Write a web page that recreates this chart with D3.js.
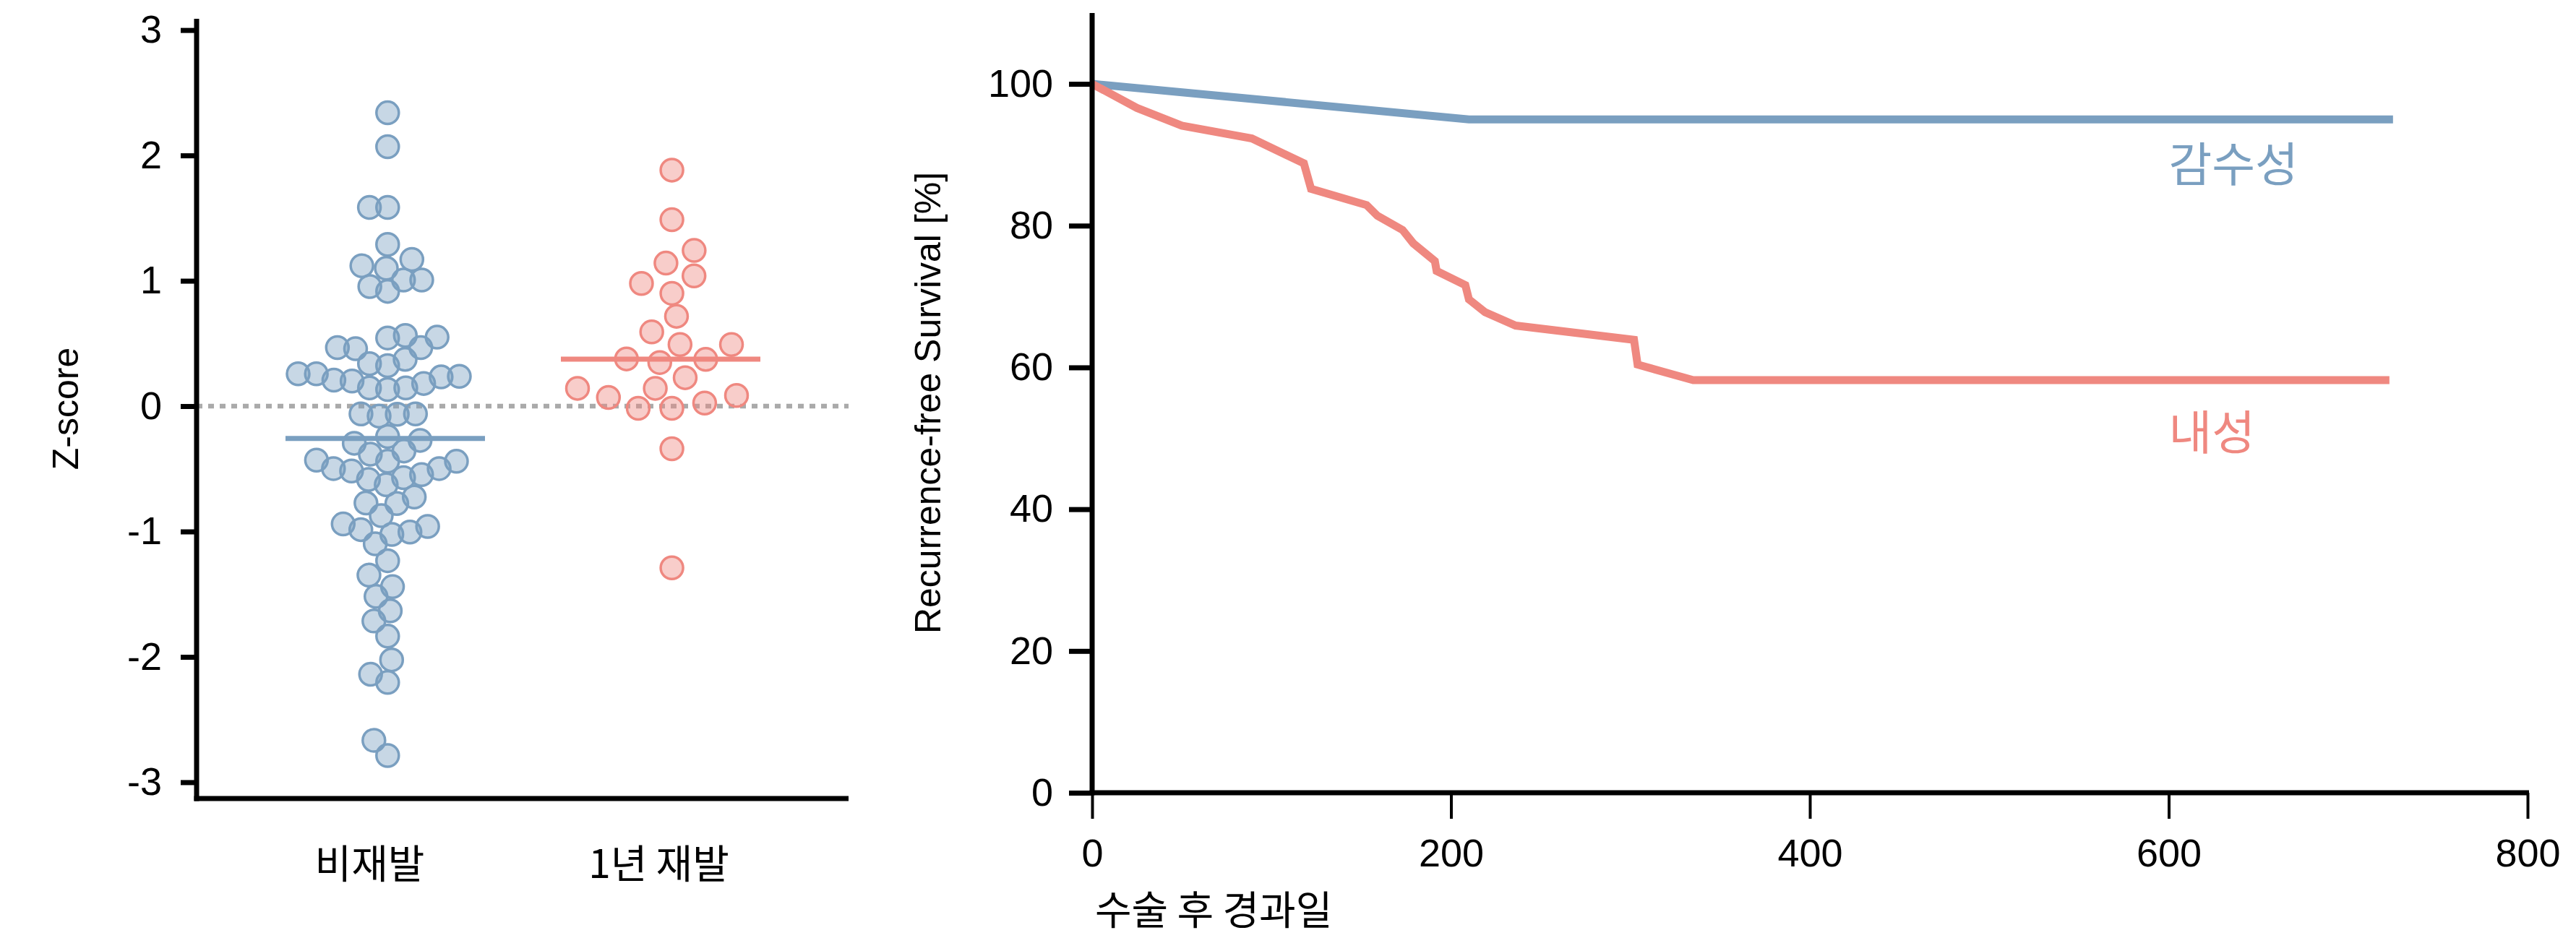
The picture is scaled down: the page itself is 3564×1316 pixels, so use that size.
<!DOCTYPE html>
<html>
<head>
<meta charset="utf-8">
<script src="https://cdn.jsdelivr.net/npm/d3@7"></script>
<style>
  body { margin: 0; background: #fff; }
  svg { display: block; }
  text { font-family: "Liberation Sans", Arial, "Noto Sans CJK KR", sans-serif; fill: #000; }
</style>
</head>
<body>
<svg id="chart"></svg>
<script>
// ---- data ----
const groups = ["비재발", "1년 재발"]

// Z-scores
const noRelapse = [
  2.34, 2.07, 1.585, 1.585, 1.29, 1.12, 1.17, 1.10, 1.006, 1.006, 0.954, 0.916,
  0.467, 0.458, 0.544, 0.55, 0.564, 0.467, 0.339, 0.323, 0.373,
  0.258, 0.258, 0.181, 0.146, 0.133, 0.208, 0.146, 0.2, 0.238, 0.233,
  -0.065, -0.079, -0.062, -0.062, -0.242, -0.296, -0.273, -0.358,
  -0.44, -0.44, -0.431, -0.383, -0.498, -0.517, -0.498,
  -0.546, -0.571, -0.627, -0.585, -0.773, -0.725, -0.777, -0.873,
  -1.004, -0.94, -0.96, -1.023, -0.985, -1.098, -1.233, -1.348, -1.44, -1.518,
  -1.633, -1.714, -1.835, -2.024, -2.139, -2.204, -2.666, -2.787
]
const relapse1y = [
  1.883, 1.487, 1.242, 1.141, 1.039, 0.979, 0.9, 0.717, 0.592, 0.492, 0.492,
  0.377, 0.373, 0.348, 0.227, 0.142, 0.142, 0.085, 0.069, -0.017, 0.025, -0.017,
  -0.34, -1.29
]

// survival curves (days after surgery, % recurrence-free)
const curveNames = ["감수성", "내성"]
const sensDays = [0, 210, 725]
const sensSurv = [100, 95.0, 95.0]
const resDays = [0, 25, 50, 89, 118, 122, 153, 159, 173, 179, 191, 192, 208, 210, 219, 236, 302, 304, 335, 723]
const resSurv = [100, 96.6, 94.1, 92.3, 88.8, 85.2, 82.9, 81.4, 79.4, 77.5, 75.0, 73.6, 71.6, 69.6, 67.8, 65.9, 63.9, 60.4, 58.2, 58.2]

const zTicks = [-3, -2, -1, 0, 1, 2, 3]
const survTicks = [0, 20, 40, 60, 80, 100]
const dayTicks = [0, 200, 400, 600, 800]

// ---- setup ----
const W = 3564, H = 1316
const blue = "#7a9fc0", red = "#ef8880"
const colors = [blue, red]
const plainNum = d => String(d)   // hyphen minus like the original, not U+2212

const svg = d3.select("#chart").attr("width", W).attr("height", H)

// ---- left panel: swarm ----
let zY = d3.scaleLinear().domain([-3.13, 3.09]).range([1105, 26])
let catX = d3.scalePoint().domain(groups).range([511, 911])
const leftX0 = 272, leftX1 = 1174

let left = svg.append("g")

// zero reference line
left.append("line")
  .attr("x1", leftX0).attr("x2", leftX1)
  .attr("y1", zY(0)).attr("y2", zY(0))
  .attr("stroke", "#aaaaaa")
  .attr("stroke-width", 6.5)
  .attr("stroke-dasharray", "8,8")

/**
 * Seaborn-like beeswarm: points placed from lowest value up, each at the
 * candidate closest to the midline that doesn't collide. The swarm is then
 * centred on cx and stretched to the given width.
 **/
function swarm(values, cx, width) {
  const r = 16
  const pts = values.map(v => ({ v, y: zY(v) })).sort((a, b) => b.y - a.y)
  const placed = []
  pts.forEach(p => {
    const near = placed.filter(q => Math.abs(q.y - p.y) < 2 * r).reverse()
    const cands = [0]
    let leftFirst = true
    near.forEach(q => {
      const dx = Math.sqrt(Math.max(4 * r * r - (p.y - q.y) ** 2, 0)) * 1.05
      cands.push(...(leftFirst ? [q.sx - dx, q.sx + dx] : [q.sx + dx, q.sx - dx]))
      leftFirst = !leftFirst
    })
    cands.sort((a, b) => Math.abs(a) - Math.abs(b))
    p.sx = cands.find(c => near.every(q => (q.sx - c) ** 2 + (q.y - p.y) ** 2 >= 4 * r * r - 1e-6))
    if (p.sx === undefined) p.sx = 0
    placed.push(p)
  })
  const [lo, hi] = d3.extent(placed, p => p.sx)
  const k = width / (hi - lo)
  return placed.map(p => ({ v: p.v, x: cx + (p.sx - (lo + hi) / 2) * k, y: p.y }))
}

const groupValues = [noRelapse, relapse1y]
const swarmShift = [13, -2]
const swarmWidth = [223, 220]

groupValues.forEach((vals, i) => {
  const cx = catX(groups[i])
  const pts = swarm(vals, cx + swarmShift[i], swarmWidth[i])

  left.append("g")
    .selectAll("circle")
    .data(pts)
    .enter()
    .append("circle")
    .attr("cx", d => d.x)
    .attr("cy", d => d.y)
    .attr("r", 15.5)
    .attr("fill", colors[i])
    .attr("fill-opacity", 0.42)
    .attr("stroke", colors[i])
    .attr("stroke-width", 3.5)

  // median line
  const med = d3.median(vals)
  const shift = i === 0 ? 22 : 3
  left.append("line")
    .attr("x1", cx + shift - 138).attr("x2", cx + shift + 138)
    .attr("y1", zY(med)).attr("y2", zY(med))
    .attr("stroke", colors[i])
    .attr("stroke-width", 7)
})

// axes
let zAxis = left.append("g")
  .attr("transform", `translate(${leftX0},0)`)
  .call(d3.axisLeft(zY).tickValues(zTicks).tickSize(22).tickPadding(26).tickFormat(plainNum))
zAxis.select(".domain").remove()
zAxis.selectAll(".tick line").attr("stroke", "#000").attr("stroke-width", 7)
zAxis.selectAll(".tick text").attr("font-size", 54).attr("fill", "#000")
  .style("font-family", '"Liberation Sans", Arial, sans-serif')

left.append("line")
  .attr("x1", leftX0).attr("x2", leftX0)
  .attr("y1", zY.range()[1]).attr("y2", zY.range()[0] + 3.5)
  .attr("stroke", "#000").attr("stroke-width", 7)
left.append("line")
  .attr("x1", leftX0 - 3.5).attr("x2", leftX1)
  .attr("y1", zY.range()[0]).attr("y2", zY.range()[0])
  .attr("stroke", "#000").attr("stroke-width", 7)

let catAxis = left.append("g")
  .attr("transform", `translate(0,${zY.range()[0]})`)
  .call(d3.axisBottom(catX).tickSize(0).tickPadding(71))
catAxis.select(".domain").remove()
catAxis.selectAll(".tick text").attr("font-size", 55).attr("fill", "#000")
  .style("font-family", '"Noto Sans CJK KR", sans-serif')

left.append("text")
  .attr("transform", `translate(91,${(zY.range()[0] + zY.range()[1]) / 2}) rotate(-90)`)
  .attr("text-anchor", "middle")
  .attr("dominant-baseline", "central")
  .attr("font-size", 50)
  .text("Z-score")

// ---- right panel: survival curves ----
let dayX = d3.scaleLinear().domain([0, 800]).range([1511, 3497])
let survY = d3.scaleLinear().domain([0, 110]).range([1097, 18])

let right = svg.append("g")

const curves = [
  sensDays.map((d, i) => [d, sensSurv[i]]),
  resDays.map((d, i) => [d, resSurv[i]])
]
const line = d3.line().x(d => dayX(d[0])).y(d => survY(d[1]))

curves.forEach((c, i) => {
  right.append("path")
    .datum(c)
    .attr("d", line)
    .attr("fill", "none")
    .attr("stroke", colors[i])
    .attr("stroke-width", 11)
    .attr("stroke-linejoin", "miter")
})

// curve labels
const labelPos = [[600, 86.2], [600, 48.4]]
curveNames.forEach((name, i) => {
  right.append("text")
    .attr("x", dayX(labelPos[i][0]))
    .attr("y", survY(labelPos[i][1]))
    .attr("font-size", 65)
    .style("font-family", '"Noto Sans CJK KR", sans-serif')
    .style("fill", colors[i])
    .text(name)
})

let survAxis = right.append("g")
  .attr("transform", `translate(${dayX(0)},0)`)
  .call(d3.axisLeft(survY).tickValues(survTicks).tickSize(32).tickPadding(22))
survAxis.select(".domain").remove()
survAxis.selectAll(".tick line").attr("stroke", "#000").attr("stroke-width", 7)
survAxis.selectAll(".tick text").attr("font-size", 54).attr("fill", "#000")
  .style("font-family", '"Liberation Sans", Arial, sans-serif')

let dayAxis = right.append("g")
  .attr("transform", `translate(0,${survY(0)})`)
  .call(d3.axisBottom(dayX).tickValues(dayTicks).tickSize(36).tickPadding(28))
dayAxis.select(".domain").remove()
dayAxis.selectAll(".tick line").attr("stroke", "#000").attr("stroke-width", 4)
dayAxis.selectAll(".tick text").attr("font-size", 54).attr("fill", "#000")
  .style("font-family", '"Liberation Sans", Arial, sans-serif')

right.append("line")
  .attr("x1", dayX(0)).attr("x2", dayX(0))
  .attr("y1", survY.range()[1]).attr("y2", survY(0) + 3.5)
  .attr("stroke", "#000").attr("stroke-width", 7)
right.append("line")
  .attr("x1", dayX(0) - 3.5).attr("x2", dayX(800) + 2)
  .attr("y1", survY(0)).attr("y2", survY(0))
  .attr("stroke", "#000").attr("stroke-width", 7)

right.append("text")
  .attr("transform", `translate(1284,${(survY.range()[0] + survY.range()[1]) / 2}) rotate(-90)`)
  .attr("text-anchor", "middle")
  .attr("dominant-baseline", "central")
  .attr("font-size", 50)
  .text("Recurrence-free Survival [%]")

right.append("text")
  .attr("x", dayX(0) + 4)
  .attr("y", 1279)
  .attr("font-size", 55)
  .style("font-family", '"Noto Sans CJK KR", sans-serif')
  .text("수술 후 경과일")
</script>
</body>
</html>
